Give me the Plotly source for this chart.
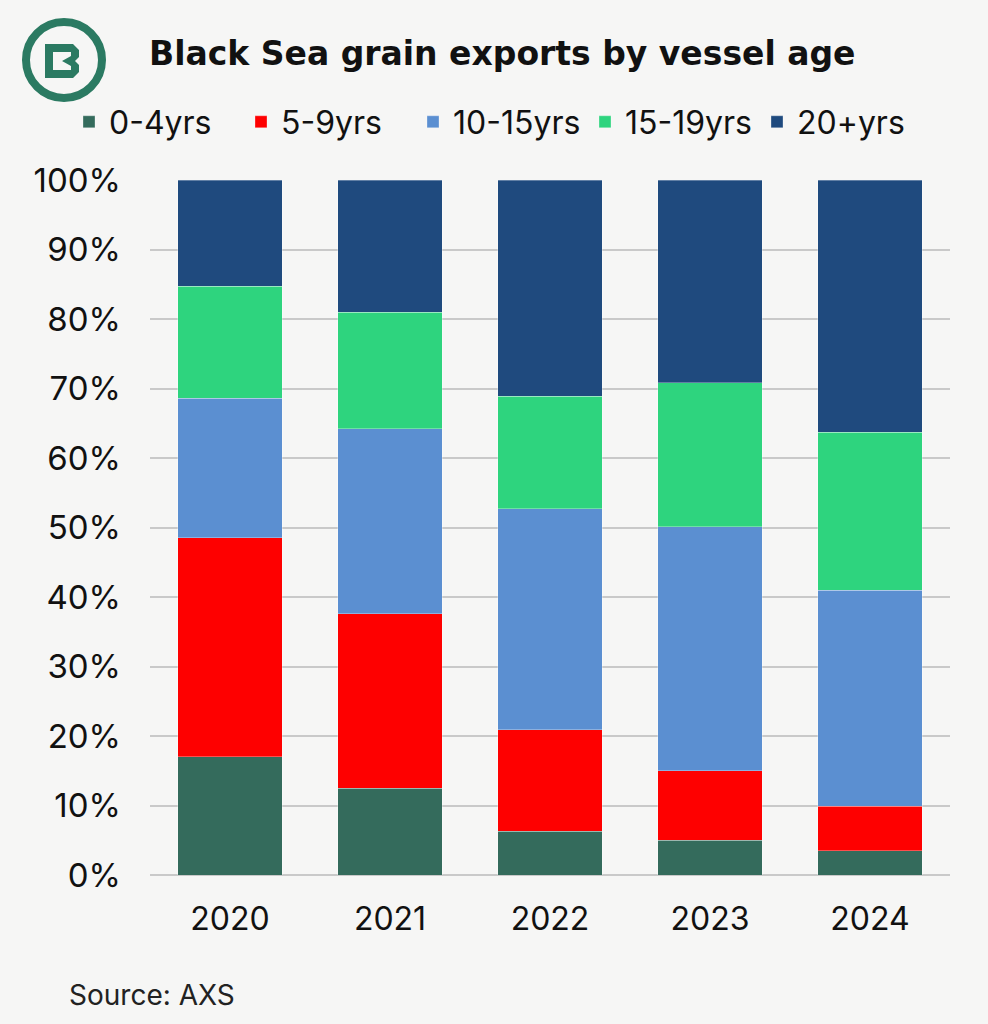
import plotly.graph_objects as go

years = ["2020", "2021", "2022", "2023", "2024"]
age_0_4 = [17.0, 12.5, 6.3, 5.0, 3.5]
age_5_9 = [31.5, 25.1, 14.6, 10.0, 6.4]
age_10_15 = [20.1, 26.6, 31.8, 35.1, 31.1]
age_15_19 = [16.1, 16.8, 16.2, 20.7, 22.7]
age_20_plus = [15.3, 19.0, 31.1, 29.2, 36.3]
series_names = ["0-4yrs", "5-9yrs", "10-15yrs", "15-19yrs", "20+yrs"]
series_values = [age_0_4, age_5_9, age_10_15, age_15_19, age_20_plus]
colors = ["#346b5c", "#fe0000", "#5b8fd1", "#2ed47e", "#1f4a7e"]
y_ticks = [0, 10, 20, 30, 40, 50, 60, 70, 80, 90, 100]
y_tick_labels = [f"{v}%" for v in y_ticks]

FONT = "Inter"
BG = "#f6f6f5"
LOGO = "#2b7a62"
L, R, T, B = 150, 38, 180, 149
PW, PH = 988 - L - R, 1024 - T - B


def px(xp):
    return (xp - L) / PW


def py(yp):
    return (1024 - B - yp) / PH


def path(points_list):
    out = []
    for pts in points_list:
        seg = "M" + " L".join(f"{px(x):.5f},{py(y):.5f}" for x, y in pts) + " Z"
        out.append(seg)
    return " ".join(out)


fig = go.Figure()
for name, vals, col in zip(series_names, series_values, colors):
    fig.add_trace(go.Bar(
        x=years, y=vals, name=name,
        marker=dict(color=col, line=dict(color="rgba(255,255,255,0.5)", width=0.6)),
    ))

fig.update_layout(
    barmode="stack",
    bargap=0.344,
    width=988, height=1024,
    paper_bgcolor=BG, plot_bgcolor=BG,
    margin=dict(l=L, r=R, t=T, b=B, autoexpand=False),
    font=dict(family=FONT, color="#111111", size=30),
    title=dict(
        text="<b>Black Sea grain exports by vessel age</b>",
        xref="container", yref="container",
        x=149/988, y=1-53/1024, xanchor="left", yanchor="middle",
        font=dict(family="DejaVu Sans", size=33, color="#111111"),
    ),
    legend=dict(
        orientation="h", traceorder="normal",
        xref="paper", yref="paper",
        x=px(69), y=py(122), xanchor="left", yanchor="middle",
        font=dict(family=FONT, size=32, color="#111111"),
        bgcolor="rgba(0,0,0,0)", itemwidth=30, itemclick=False,
        entrywidth=127, entrywidthmode="pixels",
    ),
    xaxis=dict(
        showgrid=False, showline=False, ticks="",
        tickfont=dict(family=FONT, size=32, color="#111111"),
        ticklabelstandoff=22,
    ),
    yaxis=dict(
        range=[0, 100], tickvals=y_ticks, ticktext=y_tick_labels,
        showgrid=True, gridcolor="#c9c9c9", gridwidth=1.5,
        zeroline=True, zerolinecolor="#c9c9c9", zerolinewidth=1.5,
        showline=False, ticks="",
        tickfont=dict(family=FONT, size=33, color="#111111"),
        ticklabelstandoff=28,
    ),
    showlegend=True,
)

# Logo: ring + stylised B
fig.add_shape(type="circle", xref="paper", yref="paper",
              x0=px(26), x1=px(102), y0=py(98), y1=py(22),
              line=dict(color=LOGO, width=8), fillcolor="rgba(0,0,0,0)")
b_outer = [(45, 44), (73, 44), (79, 50), (79, 57), (75, 61), (79, 65),
           (79, 72), (73, 78), (45, 78)]
b_hole = [(53, 52), (71, 52), (71, 56), (62, 61), (71, 66), (71, 70), (53, 70)]
fig.add_shape(type="path", xref="paper", yref="paper",
              path=path([b_outer, b_hole]), fillrule="evenodd",
              fillcolor=LOGO, line=dict(width=0))

fig.add_annotation(text="Source: AXS", xref="paper", yref="paper",
                   x=px(67), y=py(995), xanchor="left", yanchor="middle",
                   showarrow=False, font=dict(family=FONT, size=28, color="#222222"))

fig.write_html("out.html", config={"displayModeBar": False},
               post_script="document.body.style.margin='0';")
